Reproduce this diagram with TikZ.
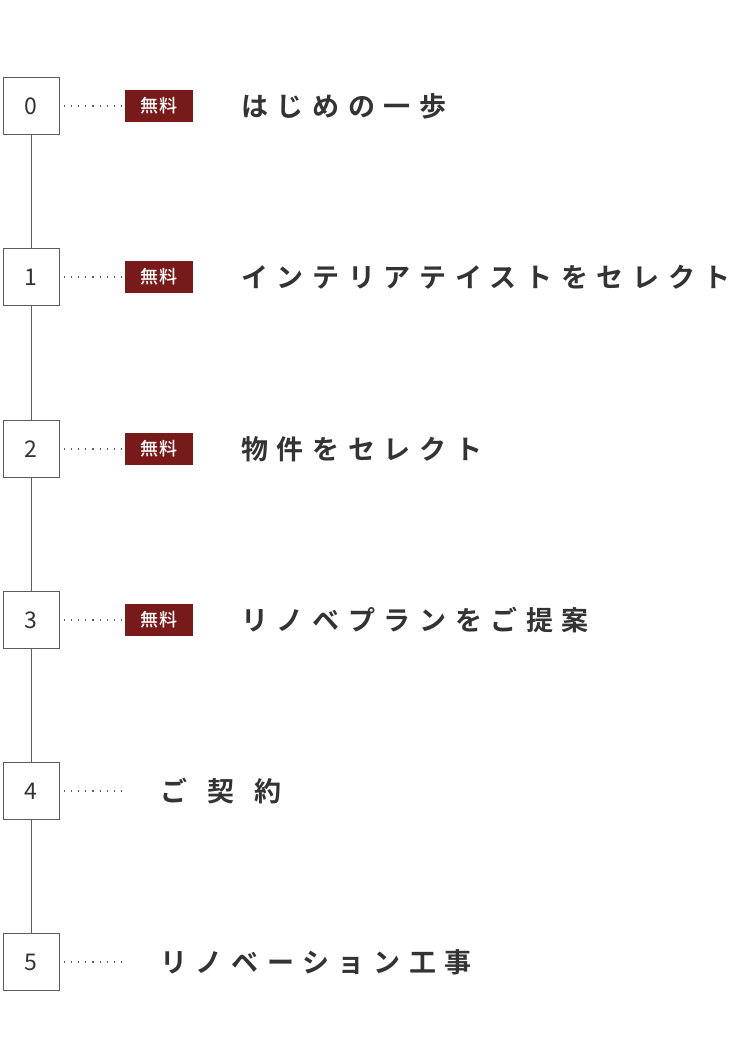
\documentclass[tikz,border=0pt]{standalone}
\usepackage{fontspec}
\newfontfamily\jpb[LetterSpace=32]{Noto Sans CJK JP Bold}
\newfontfamily\jpbw[LetterSpace=75]{Noto Sans CJK JP Bold}
\newfontfamily\jpr{Noto Sans CJK JP}
\newfontfamily\jpbadge[LetterSpace=10]{Noto Sans CJK JP Medium}
\definecolor{badge}{HTML}{791A1A}
\definecolor{ink}{HTML}{333333}
\begin{document}
\begin{tikzpicture}[x=1pt,y=-1pt,
  numbox/.style={draw=ink!80,line width=1pt,fill=white,minimum width=56pt,minimum height=57pt,inner sep=0pt,font=\jpr\fontsize{23}{23}\selectfont,text=ink},
  badgebox/.style={fill=badge,minimum width=68pt,minimum height=32pt,inner sep=0pt,font=\jpbadge\fontsize{18}{18}\selectfont,text=white},
  title/.style={anchor=west,inner sep=0pt,font=\jpb\fontsize{27}{27}\selectfont,text=ink},
  titlew/.style={title,font=\jpbw\fontsize{27}{27}\selectfont},
  dots/.style={ink!80,line width=1.2pt,dash pattern=on 1.2pt off 6pt}]
\useasboundingbox (0,0) rectangle (750,1040);
\def\rows{0/106/1/はじめの一歩,1/277/1/インテリアテイストをセレクト,2/449/1/物件をセレクト,3/620/1/リノベプランをご提案,4/791/2/ご契約,5/962/0/リノベーション工事}
\foreach \n/\y/\b/\t in \rows {
  \node[numbox] (n\n) at (31,\y) {\n};
  \coordinate (d\n) at (124,\y);
  \draw[dots] (n\n.east) ++(4,0) -- (d\n);
  \ifnum\b=1
    \node[badgebox] (b\n) at (159,\y) {無料};
    \node[title] (t\n) at (241,\y) {\t};
  \fi
  \ifnum\b=0 \node[title] (t\n) at (160,\y) {\t}; \fi
  \ifnum\b=2 \node[titlew] (t\n) at (160,\y) {\t}; \fi
}
\foreach \a/\c in {0/1,1/2,2/3,3/4,4/5} \draw[ink!80,line width=1pt] (n\a.south) -- (n\c.north);
\end{tikzpicture}
\end{document}
